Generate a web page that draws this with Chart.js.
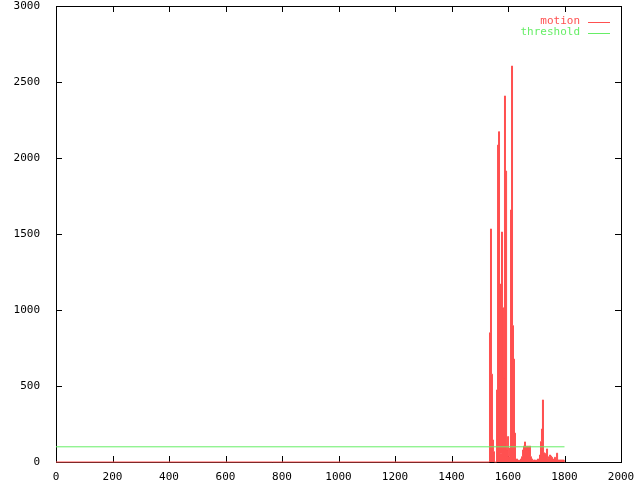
<!DOCTYPE html>
<html>
<head>
<meta charset="utf-8">
<script src="https://cdn.jsdelivr.net/npm/chart.js@4.4.1/dist/chart.umd.min.js"></script>
<style>
  body { margin: 0; background: #fff; }
  #wrap { width: 640px; height: 480px; }
</style>
</head>
<body>
<div id="wrap"><canvas id="myChart" width="640" height="480"></canvas></div>
<script>
// frame numbers and motion values (one sample per pixel column)
const motionFrames = [0, 1533, 1536, 1540, 1543, 1547, 1550, 1554, 1558, 1561, 1565, 1568, 1572, 1575, 1579, 1582, 1586,
  1589, 1593, 1597, 1600, 1604, 1607, 1611, 1614, 1618, 1621, 1625, 1628, 1632, 1635, 1639, 1643, 1646,
  1650, 1653, 1657, 1660, 1664, 1667, 1671, 1674, 1678, 1681, 1685, 1689, 1692, 1696, 1699, 1703, 1706,
  1710, 1713, 1717, 1720, 1724, 1727, 1731, 1735, 1738, 1742, 1745, 1749, 1752, 1756, 1759, 1763, 1766,
  1770, 1774, 1777, 1781, 1784, 1788, 1791, 1795, 1798, 1800];
const motionValues = [0, 0, 850, 1533, 578, 145, 68, 0, 0, 474, 2085, 2173, 1171, 58, 1513, 1015, 552,
  2408, 1914, 79, 167, 35, 92, 1658, 2605, 897, 677, 190, 13, 20, 13, 7, 13, 20,
  35, 79, 105, 132, 105, 79, 105, 79, 105, 35, 20, 7, 13, 13, 7, 13, 20,
  13, 46, 134, 217, 408, 61, 46, 57, 86, 20, 35, 46, 39, 31, 20, 13, 31,
  13, 58, 13, 13, 13, 13, 13, 13, 13, 0];

const thresholdFrames = [0, 1800];
const thresholdValues = [100, 100];

const xTicks = [0, 200, 400, 600, 800, 1000, 1200, 1400, 1600, 1800, 2000];
const yTicks = [0, 500, 1000, 1500, 2000, 2500, 3000];

const legendLabels = ["motion", "threshold"];
const RED = "#ff5050";
const GREEN = "#66ee66";
const FONT = "DejaVu Sans Mono";

const toPoints = (xs, ys) => xs.map((x, i) => ({ x: x, y: ys[i] }));

// gnuplot style box with inward ticks on all sides
const frameBox = {
  id: "frameBox",
  beforeDatasetsDraw(chart) {
    const { ctx, chartArea: a, scales } = chart;
    ctx.save();
    ctx.strokeStyle = "#000";
    ctx.lineWidth = 1;
    ctx.strokeRect(Math.round(a.left) + 0.5, Math.round(a.top) + 0.5,
      Math.round(a.right - a.left), Math.round(a.bottom - a.top));
    ctx.beginPath();
    xTicks.forEach(v => {
      const px = Math.round(scales.x.getPixelForValue(v)) + 0.5;
      ctx.moveTo(px, a.bottom); ctx.lineTo(px, a.bottom - 6);
      ctx.moveTo(px, a.top); ctx.lineTo(px, a.top + 6);
    });
    yTicks.forEach(v => {
      const py = Math.round(scales.y.getPixelForValue(v)) + 0.5;
      ctx.moveTo(a.left, py); ctx.lineTo(a.left + 6, py);
      ctx.moveTo(a.right, py); ctx.lineTo(a.right - 6, py);
    });
    ctx.stroke();
    ctx.restore();
  },
  afterDraw(chart) {
    const { ctx } = chart;
    const colors = [RED, GREEN];
    ctx.save();
    ctx.font = "11px '" + FONT + "'";
    ctx.textAlign = "right";
    ctx.textBaseline = "middle";
    legendLabels.forEach((t, i) => {
      const y = 21.5 + i * 11;
      ctx.fillStyle = colors[i];
      ctx.fillText(t, 580, y);
      ctx.strokeStyle = colors[i];
      ctx.lineWidth = 1;
      ctx.beginPath();
      ctx.moveTo(588, Math.round(y) + 0.5);
      ctx.lineTo(610, Math.round(y) + 0.5);
      ctx.stroke();
    });
    ctx.restore();
  }
};

const ctx = document.getElementById("myChart").getContext("2d");
const myChart = new Chart(ctx, {
  type: "line",
  data: {
    datasets: [{
      label: "motion",
      data: toPoints(motionFrames, motionValues),
      stepped: "middle",
      fill: "origin",
      borderColor: RED,
      backgroundColor: RED,
      borderWidth: 1,
      pointRadius: 0,
      clip: 3,
      order: 1
    }, {
      label: "threshold",
      data: toPoints(thresholdFrames, thresholdValues),
      fill: false,
      borderColor: GREEN,
      borderWidth: 1,
      pointRadius: 0,
      order: 0
    }]
  },
  options: {
    responsive: false,
    animation: false,
    layout: { padding: { top: 6, right: 19, left: 0, bottom: 0 } },
    plugins: { legend: { display: false }, tooltip: { enabled: false } },
    scales: {
      x: {
        type: "linear",
        min: 0, max: 2000,
        grid: { display: false },
        border: { display: false },
        afterBuildTicks: s => { s.ticks = xTicks.map(v => ({ value: v })); },
        afterFit: s => { s.height = 18; s.paddingLeft = 0; s.paddingRight = 0; },
        ticks: { color: "#000", padding: 1, maxRotation: 0, autoSkip: false,
          font: { family: FONT, size: 11 }, callback: v => String(v) }
      },
      y: {
        min: 0, max: 3000,
        grid: { display: false },
        border: { display: false },
        afterBuildTicks: s => { s.ticks = yTicks.map(v => ({ value: v })); },
        afterFit: s => { s.width = 56; s.paddingTop = 0; s.paddingBottom = 0; },
        ticks: { color: "#000", padding: 8, font: { family: FONT, size: 11 }, callback: v => String(v) }
      }
    }
  },
  plugins: [frameBox]
});
</script>
</body>
</html>
